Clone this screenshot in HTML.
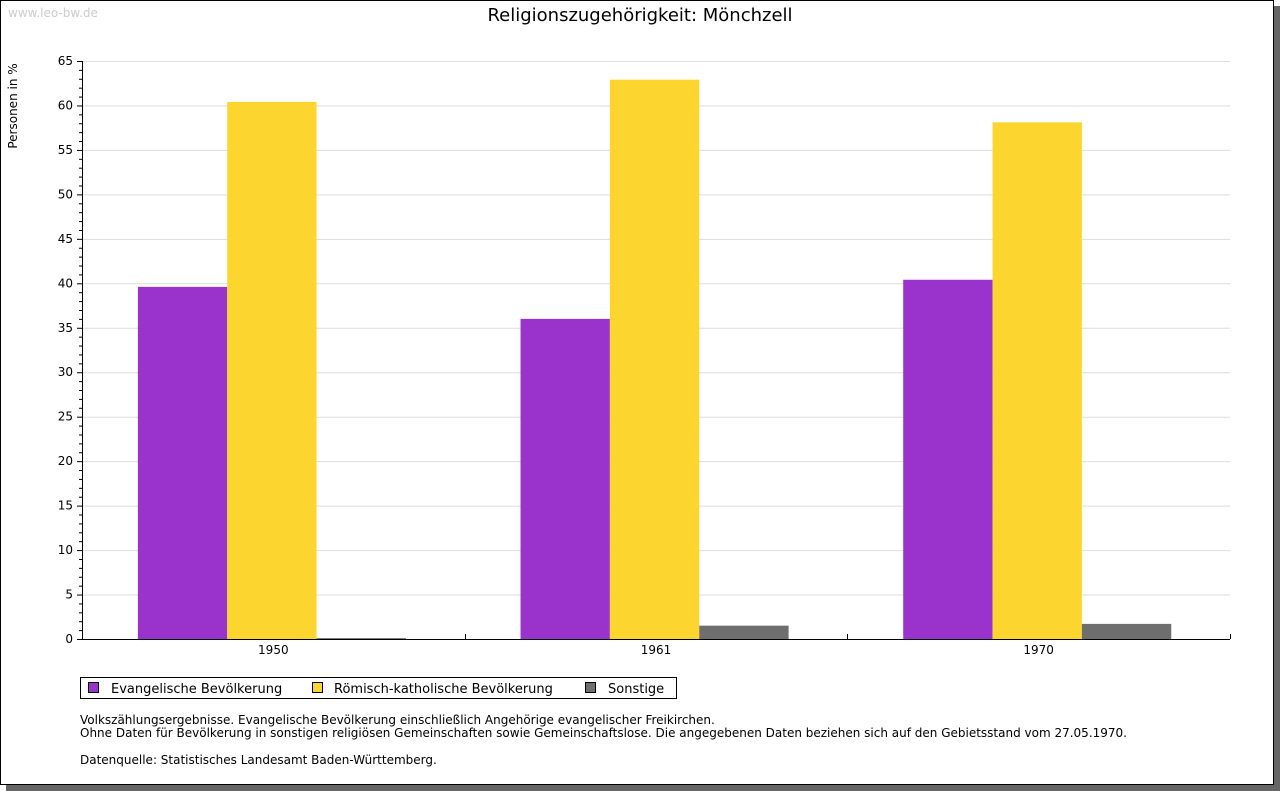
<!DOCTYPE html>
<html><head><meta charset="utf-8"><style>
html,body{margin:0;padding:0;background:#fff;}
svg{display:block;font-family:"DejaVu Sans","Liberation Sans",sans-serif;}
</style></head><body>
<svg id="c" width="1280" height="791" xmlns="http://www.w3.org/2000/svg">
<rect x="6" y="6" width="1274" height="785" fill="#666"/>
<rect x="0.5" y="0.5" width="1273" height="784" fill="#fff" stroke="#000"/>
<text x="8" y="17" font-size="12" fill="#ccc">www.leo-bw.de</text>
<text x="640" y="21" font-size="18" text-anchor="middle" fill="#000">Religionszugehörigkeit: Mönchzell</text>
<text transform="translate(17,106) rotate(-90)" font-size="12" text-anchor="middle">Personen in %</text>
<g id="grid"></g><g id="bars"></g><g id="axes"></g>
<g>
<rect x="80.5" y="677.5" width="596" height="21" fill="#fff" stroke="#000"/>
<g><rect x="88.5" y="682.5" width="10" height="10" fill="#9933cc" stroke="#000"/><text x="111" y="693" font-size="13">Evangelische Bevölkerung</text></g>
<g><rect x="312.5" y="682.5" width="10" height="10" fill="#fcd62e" stroke="#000"/><text x="334" y="693" font-size="13">Römisch-katholische Bevölkerung</text></g>
<g><rect x="585.5" y="682.5" width="10" height="10" fill="#6e6e6e" stroke="#000"/><text x="608" y="693" font-size="13">Sonstige</text></g>
</g>
<g font-size="12">
<text x="80" y="724">Volkszählungsergebnisse. Evangelische Bevölkerung einschließlich Angehörige evangelischer Freikirchen.</text>
<text x="80" y="737">Ohne Daten für Bevölkerung in sonstigen religiösen Gemeinschaften sowie Gemeinschaftslose. Die angegebenen Daten beziehen sich auf den Gebietsstand vom 27.05.1970.</text>
<text x="80" y="764">Datenquelle: Statistisches Landesamt Baden-Württemberg.</text>
</g>
</svg>
<script>
const categories=["1950","1961","1970"];
const evangelisch=[39.6,36.0,40.4];
const katholisch=[60.4,62.9,58.1];
const sonstige=[0.1,1.5,1.7];
const yTicks=[0,5,10,15,20,25,30,35,40,45,50,55,60,65];
const NS="http://www.w3.org/2000/svg";
const X0=82,X1=1230,Y0=639,Y1=61,YMAX=65;
const y=v=>Y0-(v/YMAX)*(Y0-Y1);
const gw=(X1-X0)/categories.length;
const bw=gw*0.2335,pad=gw*0.146;
function mk(t,a,p){const e=document.createElementNS(NS,t);for(const k in a)e.setAttribute(k,a[k]);p.appendChild(e);return e;}
const grid=document.getElementById('grid'),bars=document.getElementById('bars'),axes=document.getElementById('axes');
yTicks.forEach(t=>{
  if(t>0){const l=mk('line',{x1:X0,x2:X1,y1:y(t)+0.5,y2:y(t)+0.5,stroke:'#ddd'},grid);
  
  }
  const tx=mk('text',{x:X0-9,y:y(t)+4,'font-size':12,'text-anchor':'end'},axes);tx.textContent=t;
  
  
});
for(let v=0;v<=YMAX;v++){mk('line',{x1:v%5?X0-3:X0-5,x2:X0,y1:y(v)+0.5,y2:y(v)+0.5,stroke:'#000'},axes);}
const series=[[evangelisch,'#9933cc','evangelisch'],[katholisch,'#fcd62e','katholisch'],[sonstige,'#6e6e6e','sonstige']];
categories.forEach((c,i)=>{
  const gx=X0+i*gw;
  series.forEach((s,j)=>{
    const v=s[0][i];
    const r=mk('rect',{x:gx+pad+j*bw,y:y(v),width:bw,height:Y0-y(v),fill:s[1]},bars);
    
    
  });
  const tx=mk('text',{x:gx+gw/2,y:Y0+15,'font-size':12,'text-anchor':'middle'},axes);tx.textContent=c;
  
  
  mk('line',{x1:Math.round(gx+gw)+0.5,x2:Math.round(gx+gw)+0.5,y1:Y0,y2:Y0-5,stroke:'#000'},axes);
});
mk('line',{x1:X0+0.5,x2:X0+0.5,y1:Y1,y2:Y0,stroke:'#000'},axes);
mk('line',{x1:X0,x2:X1,y1:Y0+0.5,y2:Y0+0.5,stroke:'#000'},axes);
</script>
</body></html>
